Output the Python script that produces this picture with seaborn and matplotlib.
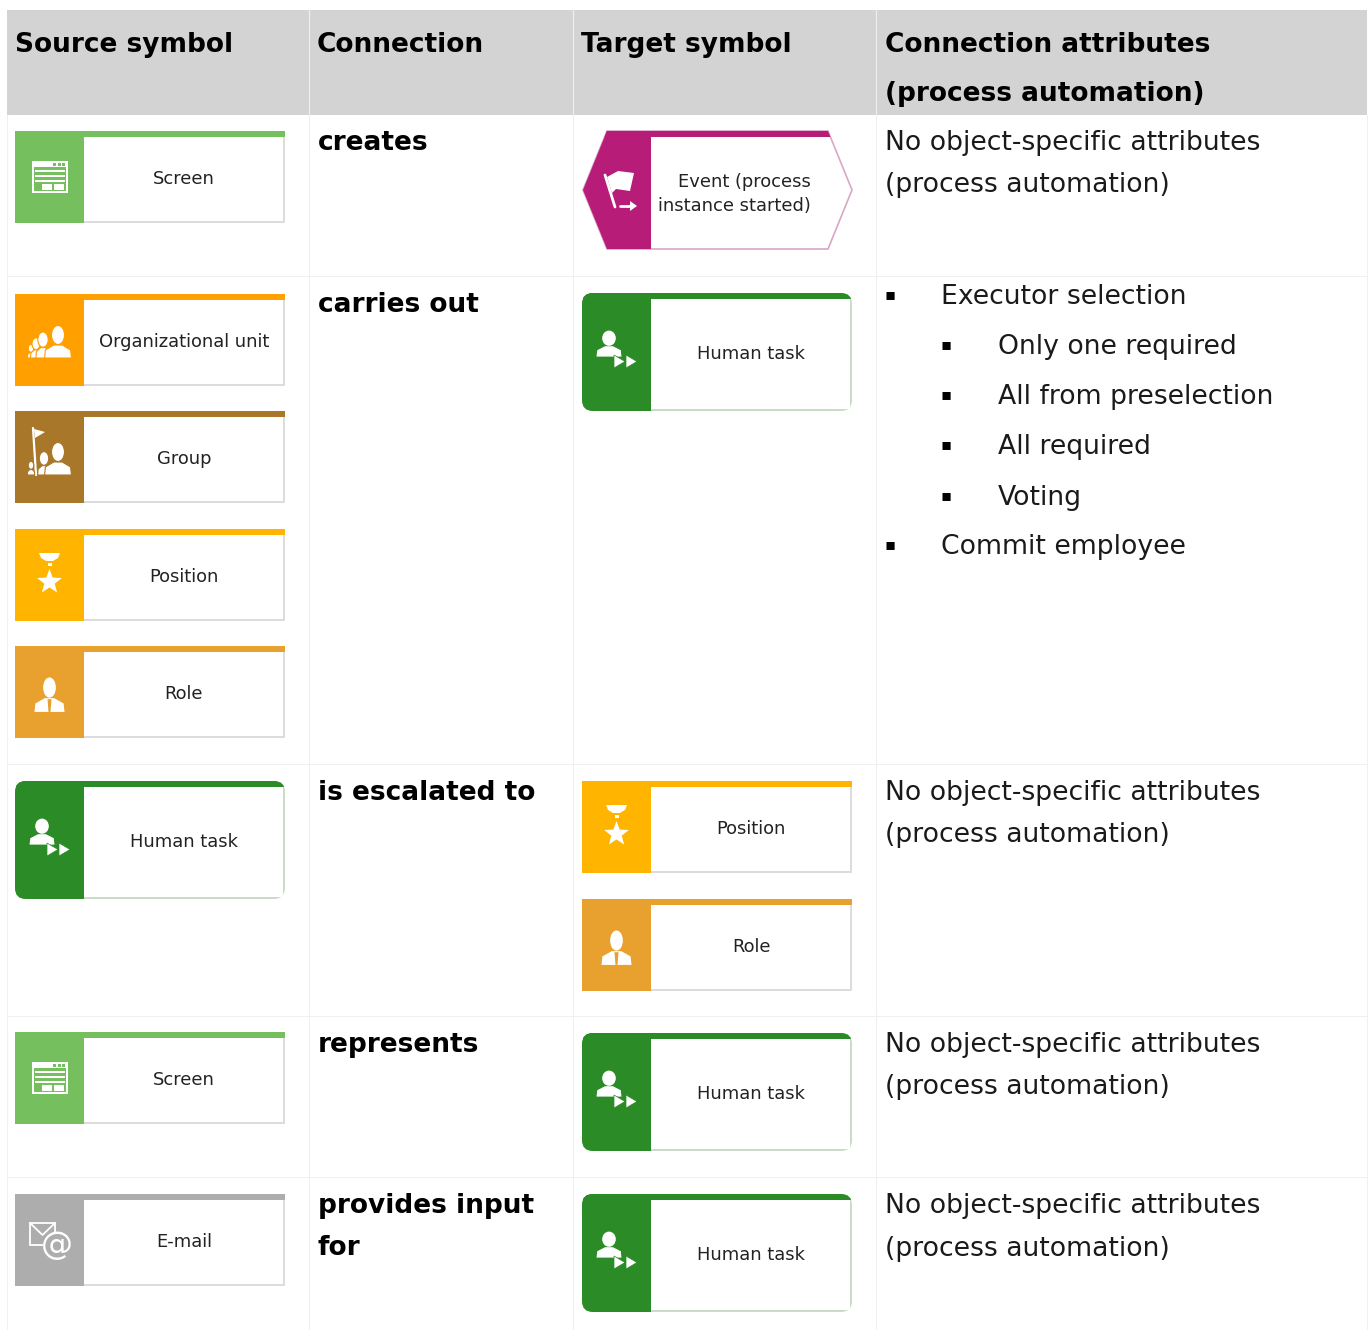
import math
import matplotlib
matplotlib.use('Agg')
import matplotlib.pyplot as plt
from matplotlib.patches import Rectangle, Polygon, Ellipse, FancyBboxPatch, Circle
import seaborn as sns

sns.set_theme(style='white')
plt.rcParams['font.family'] = ['DejaVu Sans']

# table content
headers = ['Source symbol', 'Connection', 'Target symbol', 'Connection attributes\n(process automation)']
connections = ['creates', 'carries out', 'is escalated to', 'represents', 'provides input\nfor']
no_attr = 'No object-specific attributes\n(process automation)'
attributes = [no_attr, None, no_attr, no_attr, no_attr]
bullet_items = ['Executor selection', 'Only one required', 'All from preselection', 'All required', 'Voting', 'Commit employee']
bullet_levels = [0, 1, 1, 1, 1, 0]

source_kinds = ['screen', 'org', 'group', 'position', 'role', 'human', 'screen', 'email']
source_labels = ['Screen', 'Organizational unit', 'Group', 'Position', 'Role', 'Human task', 'Screen', 'E-mail']
target_kinds = ['event', 'human', 'position', 'role', 'human', 'human']
target_labels = ['Event (process\ninstance started)', 'Human task', 'Position', 'Role', 'Human task', 'Human task']

# layout in pixels
W, H = 1371, 1330
col_edges = [7, 309, 573, 876, 1367]
row_edges = [115, 276, 764, 1016, 1177, 1330]
conn_base = [150, 312, 800, 1052, 1213]
attr_base = [150, None, 800, 1052, 1213]
bullet_base = [304, 354, 404, 454, 505, 554]
source_x = 15
target_x = 582
source_y = [131, 294, 411, 529, 646, 781, 1032, 1194]
target_y = [131, 293, 781, 899, 1033, 1194]

colors = {'screen': '#75bf5f', 'org': '#ff9f00', 'group': '#a8772a', 'position': '#ffb400',
          'role': '#e8a02e', 'human': '#2b8c27', 'event': '#b71c78', 'email': '#adadad'}

LABEL_SIZE = 12.9
BODY_SIZE = 19.2
BOLD_SIZE = 19
BULLET_SIZE = 11.8

fig = plt.figure(figsize=(W / 100, H / 100), dpi=100)
ax = fig.add_axes([0, 0, 1, 1])
ax.set_xlim(0, W)
ax.set_ylim(H, 0)
ax.axis('off')
sns.despine(ax=ax, left=True, bottom=True)


def person(cx, top, s=1.0, sx=1.0, hw=13, edge='none', tie=None, z=5):
    # head and shoulders, s scales the height, sx the width of the shoulders
    ax.add_patch(Ellipse((cx, top + 9 * s), hw * s, 19 * s, fc='white', ec=edge, lw=0.8, zorder=z))
    ax.add_patch(Polygon([(cx - 16 * sx, top + 32 * s), (cx - 15 * sx, top + 24 * s), (cx - 5 * sx, top + 19 * s),
                          (cx + 5 * sx, top + 19 * s), (cx + 15 * sx, top + 24 * s), (cx + 16 * sx, top + 32 * s)],
                         fc='white', ec=edge, lw=0.8, zorder=z))
    if tie:
        ax.add_patch(Polygon([(cx - 2, top + 20 * s), (cx + 2, top + 20 * s), (cx + 1, top + 32 * s), (cx - 1, top + 32 * s)],
                             fc=tie, ec='none', zorder=z + 1))


def star(cx, cy, r):
    pts = []
    for i in range(10):
        rad = r if i % 2 == 0 else r * 0.42
        a = math.radians(-90 + 36 * i)
        pts.append((cx + rad * math.cos(a), cy + rad * math.sin(a)))
    ax.add_patch(Polygon(pts, fc='white', ec='none', zorder=5))


def draw_icon(kind, x, y, h):
    c = colors[kind]
    if kind == 'screen':
        ax.add_patch(Rectangle((x + 17, y + 30), 36, 32, fc='white', ec='none', zorder=5))
        ax.add_patch(Rectangle((x + 19, y + 36), 32, 24, fc=c, ec='none', zorder=6))
        for i in range(3):
            ax.add_patch(Rectangle((x + 38 + i * 4.5, y + 31.5), 3, 3, fc=c, ec='none', zorder=6))
        for dy in (39, 44, 49):
            ax.add_patch(Rectangle((x + 20, y + dy), 30, 1.6, fc='white', ec='none', zorder=7))
        ax.add_patch(Rectangle((x + 27, y + 53), 10, 6, fc='white', ec='none', zorder=7))
        ax.add_patch(Rectangle((x + 39, y + 53), 10, 6, fc='white', ec='none', zorder=7))
    elif kind == 'org':
        for dx, s, z in ((16, 0.42, 5), (21, 0.62, 6), (28, 0.8, 7)):
            person(x + dx, y + 64 - 32 * s, s, s * 0.55, edge=c, z=z)
        person(x + 43, y + 32, 1.0, 0.84, edge=c, z=9)
    elif kind == 'group':
        ax.plot([x + 18, x + 21], [y + 17, y + 64], color='white', lw=1.6, zorder=5)
        ax.add_patch(Polygon([(x + 19, y + 18), (x + 30, y + 21), (x + 20, y + 27)], fc='white', ec='none', zorder=5))
        for dx, s, z in ((16, 0.42, 5), (29, 0.72, 7)):
            person(x + dx, y + 64 - 32 * s, s, s * 0.55, edge=c, z=z)
        person(x + 43, y + 32, 1.0, 0.84, edge=c, z=9)
    elif kind == 'position':
        ax.add_patch(Polygon([(x + 24, y + 24), (x + 45, y + 24), (x + 43, y + 29), (x + 38, y + 32), (x + 31, y + 32), (x + 26, y + 29)],
                             fc='white', ec='none', zorder=5))
        ax.add_patch(Rectangle((x + 32.5, y + 34), 4, 3, fc='white', ec='none', zorder=5))
        star(x + 34.5, y + 53, 13)
    elif kind == 'role':
        person(x + 34.5, y + 32, 1.06, 0.94, hw=12, tie=c)
    elif kind == 'human':
        person(x + 27, y + 38, 0.8, 0.78, hw=17)
        ax.plot([x + 28, x + 38], [y + 62, y + 58], color='white', lw=1.2, zorder=5)
        ax.add_patch(Polygon([(x + 32, y + 62), (x + 32, y + 75), (x + 43, y + 68.5)], fc='white', ec=c, lw=0.5, zorder=6))
        ax.add_patch(Polygon([(x + 44, y + 62), (x + 44, y + 75), (x + 55, y + 68.5)], fc='white', ec=c, lw=0.5, zorder=6))
    elif kind == 'event':
        ax.plot([x + 23, x + 33], [y + 44, y + 76], color='white', lw=2, zorder=5)
        ax.add_patch(Polygon([(x + 25, y + 46), (x + 36, y + 40), (x + 52, y + 42), (x + 48, y + 60), (x + 34, y + 58), (x + 30, y + 62)],
                             fc='white', ec='none', zorder=5))
        ax.plot([x + 38, x + 50], [y + 75, y + 75], color='white', lw=2, zorder=5)
        ax.add_patch(Polygon([(x + 48, y + 70), (x + 55, y + 75), (x + 48, y + 80)], fc='white', ec='none', zorder=5))
    elif kind == 'email':
        ax.add_patch(Rectangle((x + 15, y + 29), 25, 22, fc=c, ec='white', lw=1.3, zorder=5))
        ax.plot([x + 15, x + 27.5, x + 40], [y + 29, y + 41, y + 29], color='white', lw=1.3, zorder=6)
        ax.add_patch(Circle((x + 42, y + 52), 14, fc=c, ec='none', zorder=7))
        ax.text(x + 42, y + 52, '@', color='white', fontsize=23, ha='center', va='center', zorder=8)


def draw_symbol(kind, label, x, y):
    c = colors[kind]
    w = 270
    if kind in ('human', 'event'):
        h = 118
    else:
        h = 92
    head = Rectangle((x, y), 69, h, transform=ax.transData)
    band = Rectangle((x, y), w, 6, transform=ax.transData)
    if kind == 'human':
        ax.add_patch(FancyBboxPatch((x, y), w, h, boxstyle='round,pad=0,rounding_size=11', fc='#c8dcc6', ec='none', zorder=2))
        ax.add_patch(Rectangle((x + 60, y + 6), w - 62, h - 8, fc='white', ec='none', zorder=3))
        for clip in (head, band):
            p = ax.add_patch(FancyBboxPatch((x, y), w, h, boxstyle='round,pad=0,rounding_size=11', fc=c, ec='none', zorder=3))
            p.set_clip_path(clip)
    elif kind == 'event':
        hexagon = [(x + 25, y), (x + 246, y), (x + 270, y + 59), (x + 246, y + 118), (x + 25, y + 118), (x + 1, y + 59)]
        ax.add_patch(Polygon(hexagon, fc='white', ec='#d9a6c6', lw=1.2, zorder=2))
        for clip in (head, band):
            p = ax.add_patch(Polygon(hexagon, fc=c, ec='none', zorder=3))
            p.set_clip_path(clip)
    else:
        ax.add_patch(Rectangle((x, y), w, h, fc='#dcdcdc', ec='none', zorder=2))
        ax.add_patch(Rectangle((x + 69, y + 6), w - 71, h - 8, fc='white', ec='none', zorder=3))
        ax.add_patch(Rectangle((x, y), 69, h, fc=c, ec='none', zorder=4))
        ax.add_patch(Rectangle((x, y), w, 6, fc=c, ec='none', zorder=4))
    draw_icon(kind, x, y, h)
    if kind == 'event':
        first, second = label.split('\n')
        ax.text(x + 229, y + 56, first, fontsize=LABEL_SIZE, color='#222222', ha='right', va='baseline', zorder=6)
        ax.text(x + 229, y + 80, second, fontsize=LABEL_SIZE, color='#222222', ha='right', va='baseline', zorder=6)
    else:
        base = y + (66 if kind == 'human' else 53)
        ax.text(x + 169, base, label, fontsize=LABEL_SIZE, color='#222222', ha='center', va='baseline', zorder=6)


# header band and grid
ax.add_patch(Rectangle((col_edges[0], 10), col_edges[-1] - col_edges[0], row_edges[0] - 10, fc='#d3d3d3', ec='none', zorder=0))
for xe in col_edges[1:-1]:
    ax.plot([xe, xe], [10, row_edges[0]], color='#f0f0f0', lw=0.8, zorder=1)
for xe in col_edges:
    ax.plot([xe, xe], [row_edges[0], H], color='#f0f0f0', lw=0.8, zorder=1)
for ye in row_edges[1:-1]:
    ax.plot([col_edges[0], col_edges[-1]], [ye, ye], color='#f0f0f0', lw=0.8, zorder=1)

# header text
for i, head_text in enumerate(headers):
    for j, line in enumerate(head_text.split('\n')):
        ax.text(col_edges[i] + 8 + (1 if i == 3 else 0), 52 + 49 * j, line, fontsize=BOLD_SIZE, fontweight='bold',
                color='black', ha='left', va='baseline')

# connection column
for conn, base in zip(connections, conn_base):
    for j, line in enumerate(conn.split('\n')):
        ax.text(col_edges[1] + 9, base + 42 * j, line, fontsize=BOLD_SIZE, fontweight='bold', color='black',
                ha='left', va='baseline')

# attribute column
for attr, base in zip(attributes, attr_base):
    if attr is None:
        continue
    for j, line in enumerate(attr.split('\n')):
        ax.text(col_edges[3] + 9, base + 42.5 * j, line, fontsize=BODY_SIZE, color='#1a1a1a', ha='left', va='baseline')

for item, level, base in zip(bullet_items, bullet_levels, bullet_base):
    ax.text(884 + 57 * level, base - 5, '▪', fontsize=BULLET_SIZE, color='black', ha='left', va='baseline')
    ax.text(941 + 57 * level, base, item, fontsize=BODY_SIZE, color='#1a1a1a', ha='left', va='baseline')

# symbols
for kind, label, y in zip(source_kinds, source_labels, source_y):
    draw_symbol(kind, label, source_x, y)
for kind, label, y in zip(target_kinds, target_labels, target_y):
    draw_symbol(kind, label, target_x, y)

fig.savefig('out.png', dpi=100, facecolor='white')
